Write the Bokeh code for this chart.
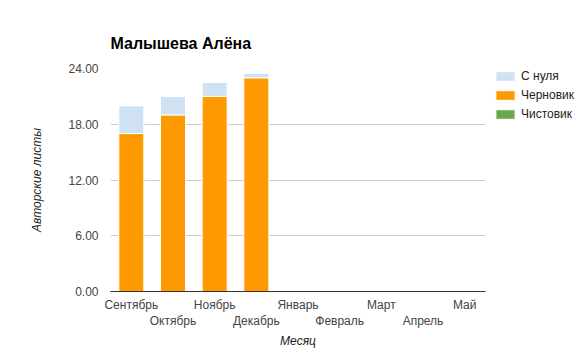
from bokeh.plotting import figure
from bokeh.models import (ColumnDataSource, Range1d, LinearAxis, FixedTicker,
                          Legend, LegendItem, NumeralTickFormatter)
from bokeh.embed import file_html
from bokeh.resources import INLINE

title = "Малышева Алёна"
months = ["Сентябрь", "Октябрь", "Ноябрь", "Декабрь", "Январь",
          "Февраль", "Март", "Апрель", "Май"]
chernovik = [17.0, 19.0, 21.0, 23.0, 0, 0, 0, 0, 0]
s_nulya = [3.0, 2.0, 1.5, 0.5, 0, 0, 0, 0, 0]
chistovik = [0, 0, 0, 0, 0, 0, 0, 0, 0]
y_ticks = [0, 6, 12, 18, 24]

FONT = "Liberation Sans"
idx = list(range(len(months)))

src = ColumnDataSource(dict(x=idx, chern=chernovik, snul=s_nulya, chist=chistovik))

FRAME_W, FRAME_H = 375, 223
p = figure(frame_width=FRAME_W, frame_height=FRAME_H, output_backend="svg",
           toolbar_location=None,
           x_range=Range1d(-0.5, len(months) - 0.5), y_range=Range1d(0, 24),
           min_border_left=110, min_border_right=0, min_border_top=68,
           min_border_bottom=64)
p.outline_line_color = None

rs = p.vbar_stack(["chern", "snul", "chist"], x="x", width=0.6, source=src,
                  color=["#ff9900", "#cfe2f3", "#6aa84f"],
                  line_color="white", line_width=1)

# title
p.title.text = title
p.title.text_font = FONT
p.title.text_font_size = "16px"
p.title.text_font_style = "bold"
p.title.text_color = "#000000"
p.title.standoff = 33

# y axis
ya = p.yaxis[0]
ya.ticker = FixedTicker(ticks=y_ticks)
ya.formatter = NumeralTickFormatter(format="0.00")
ya.axis_line_color = None
ya.major_tick_line_color = None
ya.minor_tick_line_color = None
ya.major_label_standoff = 6
ya.major_label_text_font = FONT
ya.major_label_text_font_size = "12px"
ya.major_label_text_color = "#444444"
ya.axis_label = "Авторские листы"
ya.axis_label_text_font = FONT
ya.axis_label_text_font_size = "12px"
ya.axis_label_text_font_style = "italic"
ya.axis_label_text_color = "#222222"
ya.axis_label_standoff = 21

p.ygrid.ticker = FixedTicker(ticks=y_ticks)
p.ygrid.grid_line_color = "#cccccc"
p.xgrid.grid_line_color = None

# x axis: two staggered rows
xa = p.xaxis[0]
xa.ticker = FixedTicker(ticks=[i for i in idx if i % 2 == 0])
xa.major_label_overrides = {i: months[i] for i in idx if i % 2 == 0}
xa.axis_line_color = "#333333"
xa.major_tick_line_color = None
xa.minor_tick_line_color = None
xa.major_label_standoff = 0
xa.major_label_text_font = FONT
xa.major_label_text_font_size = "12px"
xa.major_label_text_color = "#444444"

xb = LinearAxis(ticker=FixedTicker(ticks=[i for i in idx if i % 2 == 1]))
xb.major_label_overrides = {i: months[i] for i in idx if i % 2 == 1}
xb.axis_line_color = None
xb.major_tick_line_color = None
xb.minor_tick_line_color = None
xb.major_label_standoff = -7
xb.major_label_text_font = FONT
xb.major_label_text_font_size = "12px"
xb.major_label_text_color = "#444444"
xb.axis_label = "Месяц"
xb.axis_label_text_font = FONT
xb.axis_label_text_font_size = "12px"
xb.axis_label_text_font_style = "italic"
xb.axis_label_text_color = "#222222"
xb.axis_label_standoff = 3
p.add_layout(xb, "below")

legend_h = 3 * 12 + 2 * 7
legend = Legend(items=[LegendItem(label="С нуля", renderers=[rs[1]]),
                       LegendItem(label="Черновик", renderers=[rs[0]]),
                       LegendItem(label="Чистовик", renderers=[rs[2]])],
                location=(8, FRAME_H - legend_h - 3))
legend.margin = 0
legend.padding = 0
legend.border_line_color = None
legend.background_fill_alpha = 0
legend.glyph_width = 24
legend.glyph_height = 12
legend.label_height = 12
legend.spacing = 5
legend.label_standoff = 4
legend.label_text_font = FONT
legend.label_text_font_size = "12px"
legend.label_text_color = "#222222"
p.add_layout(legend, "right")

open("out.html", "w").write(file_html(p, INLINE))
